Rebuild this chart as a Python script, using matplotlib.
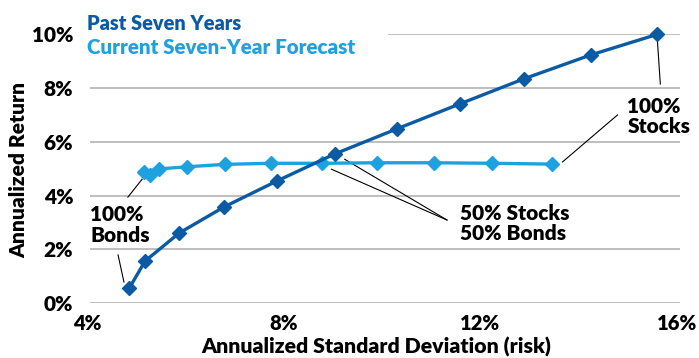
import matplotlib
matplotlib.use("Agg")
import matplotlib.pyplot as plt
from matplotlib.transforms import ScaledTranslation

# Data
past_risk = [4.80, 5.12, 5.81, 6.72, 7.80, 8.98, 10.24, 11.52, 12.82, 14.18, 15.54]
past_return = [0.56, 1.56, 2.60, 3.57, 4.54, 5.55, 6.48, 7.41, 8.34, 9.23, 10.0]
fc_risk = [5.21, 5.10, 5.40, 5.97, 6.74, 7.68, 8.71, 9.83, 11.00, 12.18, 13.39]
fc_return = [4.76, 4.89, 4.99, 5.07, 5.16, 5.20, 5.20, 5.22, 5.22, 5.20, 5.17]
x_ticks = [4, 8, 12, 16]
x_labels = ["4%", "8%", "12%", "16%"]
y_ticks = [0, 2, 4, 6, 8, 10]
y_labels = ["0%", "2%", "4%", "6%", "8%", "10%"]

DARK = "#0a5aa4"
LIGHT = "#1ea2df"
FONT = ["Lato", "DejaVu Sans"]
W = "heavy"
plt.rcParams["font.family"] = FONT
plt.rcParams["font.weight"] = W

fig = plt.figure(figsize=(6.99, 3.58), dpi=100)
ax = fig.add_axes([0.1288, 0.1536, 0.8440, 0.7505])
ax.set_xlim(4, 16)
ax.set_ylim(0, 10)
for s in ax.spines.values():
    s.set_visible(False)

# gridlines
for yv in y_ticks:
    x0 = 10.06 if yv == 10 else 4
    ax.hlines(yv, x0, 16, color="#b3b3b3", lw=1.2, zorder=1)

ax.plot(past_risk, past_return, color=DARK, lw=2.4, marker="D", ms=7.3, zorder=4, clip_on=False)
ax.plot(fc_risk, fc_return, color=LIGHT, lw=2.4, marker="D", ms=7.3, zorder=3, clip_on=False)

ax.set_xticks(x_ticks)
ax.set_xticklabels(x_labels, fontsize=14.5, fontweight=W)
ax.set_yticks(y_ticks)
ax.set_yticklabels(y_labels, fontsize=15, fontweight=W)
ax.tick_params(length=0, pad=12)
ax.tick_params(axis="x", pad=8)
off = ScaledTranslation(-3 / 100, 0, fig.dpi_scale_trans)
for lbl in ax.get_xticklabels():
    lbl.set_transform(lbl.get_transform() + off)

ax.set_xlabel("Annualized Standard Deviation (risk)", fontsize=15.3, fontweight=W)
ax.xaxis.set_label_coords(0.485, -0.125)
ax.set_ylabel("Annualized Return", fontsize=15, fontweight=W)
ax.yaxis.set_label_coords(-0.105, 0.495)

# titles
fig.text(87 / 699, 1 - 24 / 358, "Past Seven Years", color=DARK, fontsize=14.3,
         fontweight=W, ha="left", va="center")
fig.text(87 / 699, 1 - 48 / 358, "Current Seven-Year Forecast", color=LIGHT, fontsize=14.8,
         fontweight=W, ha="left", va="center")

# annotations
lk = dict(color="black", lw=0.8, zorder=2, clip_on=False)
ax.text(11.52, 2.96, "50% Stocks\n50% Bonds", fontsize=15, fontweight=W,
        ha="left", va="center", linespacing=1.1)
ax.plot([9.18, 11.26], [5.35, 3.09], **lk)
ax.plot([8.91, 11.26], [4.98, 3.09], **lk)

ax.text(14.93, 6.94, "100%\nStocks", fontsize=15, fontweight=W,
        ha="left", va="center", linespacing=1.1)
ax.plot([15.54, 15.60], [9.79, 8.15], **lk)
ax.plot([13.61, 14.73], [5.25, 7.0], **lk)

ax.text(4.0, 2.9, "100%\nBonds", fontsize=15, fontweight=W,
        ha="left", va="center", linespacing=1.1)
ax.plot([4.77, 5.06], [3.94, 4.61], **lk)
ax.plot([4.57, 4.69], [1.79, 0.78], **lk)

fig.savefig("out.png", dpi=100)
